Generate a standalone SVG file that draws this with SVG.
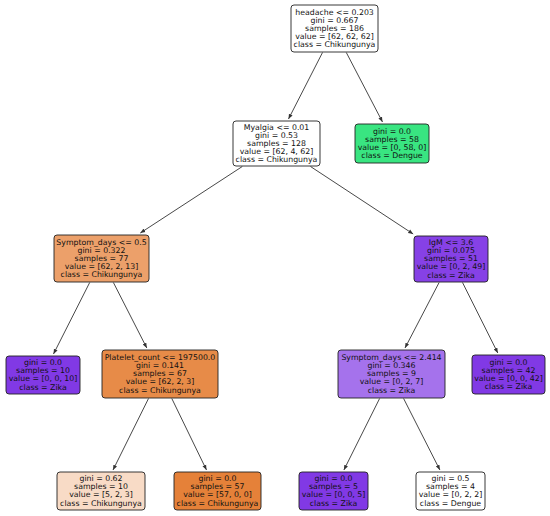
<svg xmlns="http://www.w3.org/2000/svg" width="550" height="516" viewBox="0 0 550 516">
<style>
.box{stroke:#222;stroke-width:0.9}
text{font-family:"DejaVu Sans","Liberation Sans",sans-serif;font-size:7.8px;fill:#111;text-anchor:middle}
.edge{stroke:#333;stroke-width:0.9;fill:none;marker-end:url(#ah)}
</style>
<defs>
<marker id="ah" viewBox="0 0 10 10" refX="10" refY="5" markerWidth="5" markerHeight="5" orient="auto" markerUnits="userSpaceOnUse">
<path d="M0,1 L10,5 L0,9 Z" fill="#333"/>
</marker>
</defs>
<rect width="550" height="516" fill="#ffffff"/>
<g id="edges">
<line class="edge" x1="322.5" y1="52.5" x2="288.5" y2="119"/>
<line class="edge" x1="346.3" y1="52.5" x2="382.5" y2="122"/>
<line class="edge" x1="242.3" y1="166.5" x2="140.3" y2="233"/>
<line class="edge" x1="310.5" y1="166.5" x2="413.2" y2="234"/>
<line class="edge" x1="89.7" y1="282.5" x2="53.5" y2="354"/>
<line class="edge" x1="113.4" y1="282.5" x2="146.8" y2="348"/>
<line class="edge" x1="439.1" y1="282.5" x2="405" y2="348"/>
<line class="edge" x1="462.5" y1="282.5" x2="497.8" y2="353"/>
<line class="edge" x1="148.5" y1="398.5" x2="113" y2="470"/>
<line class="edge" x1="171.8" y1="398.5" x2="206.5" y2="470"/>
<line class="edge" x1="379.6" y1="398.5" x2="343.9" y2="470"/>
<line class="edge" x1="403.6" y1="398.5" x2="439.9" y2="470"/>
</g>
<g id="n0">
<rect class="box" x="291" y="5" width="87" height="47" rx="3" fill="#ffffff"/>
<text x="334.5" y="14.6">headache &lt;= 0.203</text>
<text x="334.5" y="22.7">gini = 0.667</text>
<text x="334.5" y="30.8">samples = 186</text>
<text x="334.5" y="38.9">value = [62, 62, 62]</text>
<text x="334.5" y="47">class = Chikungunya</text>
</g>
<g id="n1">
<rect class="box" x="233" y="121" width="87" height="45" rx="3" fill="#ffffff"/>
<text x="276.5" y="129.6">Myalgia &lt;= 0.01</text>
<text x="276.5" y="137.7">gini = 0.53</text>
<text x="276.5" y="145.8">samples = 128</text>
<text x="276.5" y="153.9">value = [62, 4, 62]</text>
<text x="276.5" y="162">class = Chikungunya</text>
</g>
<g id="n2">
<rect class="box" x="355" y="124" width="74" height="39" rx="3" fill="#39e581"/>
<text x="392" y="133.7">gini = 0.0</text>
<text x="392" y="141.8">samples = 58</text>
<text x="392" y="149.9">value = [0, 58, 0]</text>
<text x="392" y="158">class = Dengue</text>
</g>
<g id="n3">
<rect class="box" x="54" y="235" width="95" height="47" rx="3" fill="#eca06a"/>
<text x="101.5" y="244.6">Symptom_days &lt;= 0.5</text>
<text x="101.5" y="252.7">gini = 0.322</text>
<text x="101.5" y="260.8">samples = 77</text>
<text x="101.5" y="268.9">value = [62, 2, 13]</text>
<text x="101.5" y="277">class = Chikungunya</text>
</g>
<g id="n4">
<rect class="box" x="414" y="236" width="74" height="46" rx="3" fill="#8641e6"/>
<text x="451" y="245.1">IgM &lt;= 3.6</text>
<text x="451" y="253.2">gini = 0.075</text>
<text x="451" y="261.3">samples = 51</text>
<text x="451" y="269.4">value = [0, 2, 49]</text>
<text x="451" y="277.5">class = Zika</text>
</g>
<g id="n5">
<rect class="box" x="6" y="356" width="74" height="38" rx="3" fill="#8139e5"/>
<text x="43" y="365.2">gini = 0.0</text>
<text x="43" y="373.3">samples = 10</text>
<text x="43" y="381.4">value = [0, 0, 10]</text>
<text x="43" y="389.5">class = Zika</text>
</g>
<g id="n6">
<rect class="box" x="102" y="350" width="116" height="48" rx="3" fill="#e78b48"/>
<text x="160" y="360.1">Platelet_count &lt;= 197500.0</text>
<text x="160" y="368.2">gini = 0.141</text>
<text x="160" y="376.3">samples = 67</text>
<text x="160" y="384.4">value = [62, 2, 3]</text>
<text x="160" y="392.5">class = Chikungunya</text>
</g>
<g id="n7">
<rect class="box" x="338" y="350" width="107" height="48" rx="3" fill="#a572ec"/>
<text x="391.5" y="360.1">Symptom_days &lt;= 2.414</text>
<text x="391.5" y="368.2">gini = 0.346</text>
<text x="391.5" y="376.3">samples = 9</text>
<text x="391.5" y="384.4">value = [0, 2, 7]</text>
<text x="391.5" y="392.5">class = Zika</text>
</g>
<g id="n8">
<rect class="box" x="472" y="355" width="73" height="39" rx="3" fill="#8139e5"/>
<text x="508.5" y="364.7">gini = 0.0</text>
<text x="508.5" y="372.8">samples = 42</text>
<text x="508.5" y="380.9">value = [0, 0, 42]</text>
<text x="508.5" y="389">class = Zika</text>
</g>
<g id="n9">
<rect class="box" x="57" y="472" width="88" height="38" rx="3" fill="#f8dbc6"/>
<text x="101" y="481.2">gini = 0.62</text>
<text x="101" y="489.3">samples = 10</text>
<text x="101" y="497.4">value = [5, 2, 3]</text>
<text x="101" y="505.5">class = Chikungunya</text>
</g>
<g id="n10">
<rect class="box" x="174" y="472" width="87" height="38" rx="3" fill="#e58139"/>
<text x="217.5" y="481.2">gini = 0.0</text>
<text x="217.5" y="489.3">samples = 57</text>
<text x="217.5" y="497.4">value = [57, 0, 0]</text>
<text x="217.5" y="505.5">class = Chikungunya</text>
</g>
<g id="n11">
<rect class="box" x="299" y="472" width="69" height="38" rx="3" fill="#8139e5"/>
<text x="333.5" y="481.2">gini = 0.0</text>
<text x="333.5" y="489.3">samples = 5</text>
<text x="333.5" y="497.4">value = [0, 0, 5]</text>
<text x="333.5" y="505.5">class = Zika</text>
</g>
<g id="n12">
<rect class="box" x="416" y="472" width="69" height="38" rx="3" fill="#ffffff"/>
<text x="450.5" y="481.2">gini = 0.5</text>
<text x="450.5" y="489.3">samples = 4</text>
<text x="450.5" y="497.4">value = [0, 2, 2]</text>
<text x="450.5" y="505.5">class = Dengue</text>
</g>
</svg>
